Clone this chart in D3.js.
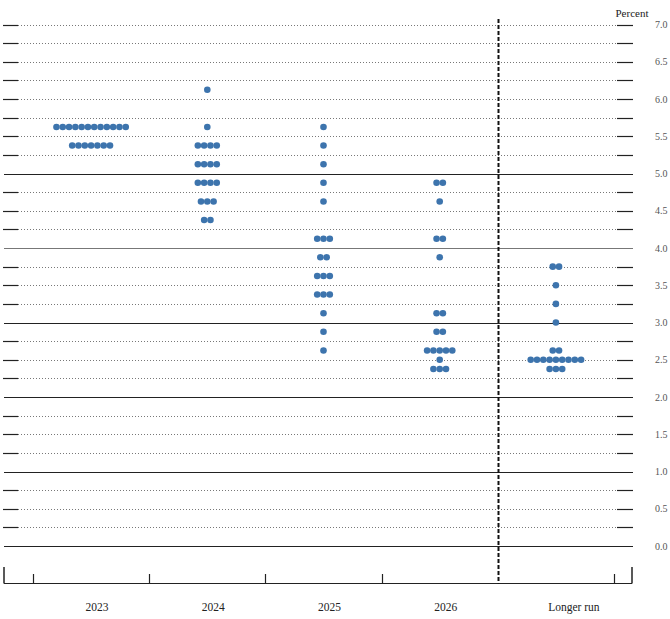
<!DOCTYPE html>
<html lang="en">
<head>
  <meta charset="UTF-8" />
  <title>FOMC dot plot</title>
  <script src="https://d3js.org/d3.v7.min.js"></script>
  <style>
    body { margin: 0; background: #fff; }
  </style>
</head>
<body>
  <svg id="chart" width="670" height="619"></svg>

  <script>
    // categories along the bottom
    const categories = ["2023", "2024", "2025", "2026", "Longer run"];

    // [rate, number of participants] per projection
    const dots2023 = [[5.625, 12], [5.375, 7]];
    const dots2024 = [[6.125, 1], [5.625, 1], [5.375, 4], [5.125, 4], [4.875, 4], [4.625, 3], [4.375, 2]];
    const dots2025 = [[5.625, 1], [5.375, 1], [5.125, 1], [4.875, 1], [4.625, 1], [4.125, 3], [3.875, 2],
                      [3.625, 3], [3.375, 3], [3.125, 1], [2.875, 1], [2.625, 1]];
    const dots2026 = [[4.875, 2], [4.625, 1], [4.125, 2], [3.875, 1], [3.125, 2], [2.875, 2], [2.625, 5],
                      [2.5, 1], [2.375, 3]];
    const dotsLonger = [[3.75, 2], [3.5, 1], [3.25, 1], [3.0, 1], [2.625, 2], [2.5, 9], [2.375, 3]];
    const allDots = [dots2023, dots2024, dots2025, dots2026, dotsLonger];

    const yTickLabels = ["0.0", "0.5", "1.0", "1.5", "2.0", "2.5", "3.0", "3.5",
                         "4.0", "4.5", "5.0", "5.5", "6.0", "6.5", "7.0"];

    const svg = d3.select("#chart");
    const serif = "'Liberation Serif', 'Times New Roman', serif";
    const dotColor = "#3d74ad";
    const dotGap = 6.3;

    const x = d3.scaleBand().domain(categories).range([33, 614]).padding(0);
    const y = d3.scaleLinear().domain([0, 7]).range([546, 24.5]);

    // grid lines every quarter point
    const gridVals = d3.range(0, 7.001, 0.25);
    const isSolid = v => Number.isInteger(v) && v <= 5;

    svg.append("g").selectAll("line")
      .data(gridVals.filter(v => !isSolid(v)))
      .join("line")
        .attr("x1", 18).attr("x2", 617)
        .attr("y1", d => Math.round(y(d)) + 0.5)
        .attr("y2", d => Math.round(y(d)) + 0.5)
        .attr("stroke", "#555")
        .attr("stroke-width", 0.8)
        .attr("stroke-dasharray", "1,2");

    svg.append("g").selectAll("line")
      .data(gridVals.filter(isSolid))
      .join("line")
        .attr("x1", 4).attr("x2", 633)
        .attr("y1", d => Math.round(y(d)) + 0.5)
        .attr("y2", d => Math.round(y(d)) + 0.5)
        .attr("stroke", d => d === 4 ? "#777" : "#222")
        .attr("stroke-width", 1);

    // short ticks on both sides
    const ticks = svg.append("g");
    gridVals.filter(v => !isSolid(v)).forEach(v => {
      const yy = Math.round(y(v)) + 0.5;
      ticks.append("line").attr("x1", 3).attr("x2", 18).attr("y1", yy).attr("y2", yy)
        .attr("stroke", "#222").attr("stroke-width", 1.2);
      ticks.append("line").attr("x1", 617).attr("x2", 633).attr("y1", yy).attr("y2", yy)
        .attr("stroke", "#222").attr("stroke-width", 1.2);
    });

    // right hand labels
    svg.append("g")
      .attr("transform", "translate(655,0)")
      .call(d3.axisRight(y)
        .tickValues(yTickLabels.map(Number))
        .tickFormat((d, i) => yTickLabels[i])
        .tickSize(0)
        .tickPadding(0))
      .call(g => g.select(".domain").remove())
      .call(g => g.selectAll("text")
        .style("font-family", serif)
        .style("font-size", "10px")
        .attr("fill", "#555"));

    svg.append("text")
      .attr("x", 632).attr("y", 17)
      .attr("text-anchor", "middle")
      .style("font-family", serif)
      .style("font-size", "11px")
      .attr("fill", "#222")
      .text("Percent");

    // bottom axis
    const axisY = 583.5;
    svg.append("line").attr("x1", 4).attr("x2", 632).attr("y1", axisY).attr("y2", axisY)
      .attr("stroke", "#222").attr("stroke-width", 1.2);
    [4, 632].forEach(xx => {
      svg.append("line").attr("x1", xx).attr("x2", xx).attr("y1", 567).attr("y2", axisY)
        .attr("stroke", "#222").attr("stroke-width", 1.5);
    });
    const edges = categories.map(c => x(c)).concat([x.range()[1]]);
    svg.append("g").selectAll("line")
      .data(edges.filter((d, i) => i !== 4))
      .join("line")
        .attr("x1", d => Math.round(d) + 0.5).attr("x2", d => Math.round(d) + 0.5)
        .attr("y1", 574).attr("y2", axisY)
        .attr("stroke", "#222").attr("stroke-width", 1.2);

    // dashed separator before longer run
    const sepX = Math.round(x("Longer run")) + 0.5;
    svg.append("line")
      .attr("x1", sepX).attr("x2", sepX)
      .attr("y1", 19).attr("y2", axisY)
      .attr("stroke", "#111")
      .attr("stroke-width", 2)
      .attr("stroke-dasharray", "4,2");

    svg.append("g").selectAll("text")
      .data(categories)
      .join("text")
        .attr("x", (d, i) => x(d) + x.bandwidth() / 2 + (i === 4 ? 18 : 6))
        .attr("y", 611)
        .attr("text-anchor", "middle")
        .style("font-family", serif)
        .style("font-size", "11.5px")
        .attr("fill", "#222")
        .text(d => d);

    // dots
    const points = [];
    allDots.forEach((rows, ci) => {
      const cx = x(categories[ci]) + x.bandwidth() / 2;
      rows.forEach(([rate, count]) => {
        for (let k = 0; k < count; k++) {
          points.push({ x: cx + (k - (count - 1) / 2) * dotGap, y: y(rate) });
        }
      });
    });

    svg.append("g").selectAll("circle")
      .data(points)
      .join("circle")
        .attr("cx", d => d.x)
        .attr("cy", d => d.y)
        .attr("r", 3.3)
        .attr("fill", dotColor);
  </script>
</body>
</html>
